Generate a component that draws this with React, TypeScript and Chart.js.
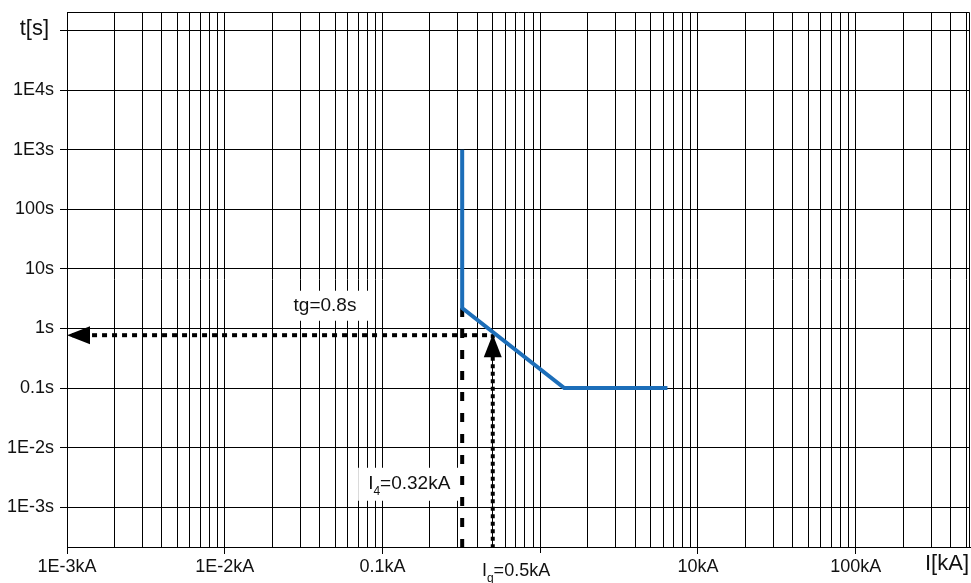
import React, { useEffect, useRef } from 'react';
import { Chart, registerables } from 'chart.js';

Chart.register(...registerables);

const FONT = '"Liberation Sans", Arial, Helvetica, sans-serif';

// ---- axes ----
const xDecades = [0.001, 0.01, 0.1, 1, 10, 100];
const xTickLabels = ['1E-3kA', '1E-2kA', '0.1kA', '', '10kA', '100kA'];
const xMinorSteps = [1, 2, 3, 4, 5, 6, 7, 8, 9];
const xMin = 0.001;
const xMax = 530;

const yDecades = [0.001, 0.01, 0.1, 1, 10, 100, 1000, 10000, 100000];
const yTickLabels = ['1E-3s', '1E-2s', '0.1s', '1s', '10s', '100s', '1E3s', '1E4s', ''];
const yMin = 2.15e-4;
const yMax = 2.04e5;

const yAxisTitle = 't[s]';
const xAxisTitle = 'I[kA]';

// ---- trip curve ----
const curveCurrent = [0.32, 0.32, 1.42, 6.4];
const curveTime = [1000, 2.2, 0.1, 0.1];

// ---- I4 pick-up (dashed) ----
const i4Current = [0.32, 0.32];
const i4Time = [2.2, yMin];

// ---- tg (dotted, arrow to time axis) ----
const tgCurrent = [0.46, xMin];
const tgTime = [0.77, 0.77];

// ---- Iq (dotted, arrow up) ----
const iqCurrent = [0.5, 0.5];
const iqTime = [0.8, yMin];

// ---- text annotations ----
const annTexts = [
  [{ t: 'tg=0.8s' }],
  [{ t: 'I' }, { t: '4', sub: true }, { t: '=0.32kA' }],
  [{ t: 'I' }, { t: 'q', sub: true }, { t: '=0.5kA' }],
];
const annX = [0.0273, 0.0811, 0.427];
const annY: (number | null)[] = [1.98, 2.04e-3, null];
const annBelowAxis = [0, 0, 29];
const annSize = [19, 19, 18];
const annBox = [
  { l: 15, r: 15, t: 20, b: 10 },
  { l: 10, r: 10, t: 21, b: 12 },
  { l: 6, r: 6, t: 23, b: 10 },
];

const BLUE = '#1c6eb9';
const INK = '#111';

const pts = (xs: number[], ys: number[]) => xs.map((x, i) => ({ x, y: ys[i] }));
const isDecade = (v: number) => Math.abs(Math.log10(v) - Math.round(Math.log10(v))) < 1e-9;
const findIdx = (arr: number[], v: number) =>
  arr.findIndex((d) => Math.abs(Math.log10(d) - Math.log10(v)) < 1e-6);

const xTickValues: number[] = [];
xDecades.forEach((d) => xMinorSteps.forEach((m) => {
  const v = d * m;
  if (v <= xMax * 1.0000001) xTickValues.push(v);
}));

function drawParts(ctx: CanvasRenderingContext2D, parts: any[], x: number, y: number, size: number, measureOnly = false) {
  let cx = x;
  parts.forEach((p) => {
    const fs = p.sub ? 12 : size;
    ctx.font = `${fs}px ${FONT}`;
    if (!measureOnly) ctx.fillText(p.t, cx, y + (p.sub ? 6 : 0));
    cx += ctx.measureText(p.t).width;
  });
  return cx - x;
}

const overlayPlugin = {
  id: 'overlay',
  beforeDatasetsDraw(chart: any) {
    const { ctx, chartArea, scales } = chart;
    ctx.save();
    ctx.textBaseline = 'alphabetic';
    ctx.textAlign = 'left';
    annTexts.forEach((parts, i) => {
      const x = scales.x.getPixelForValue(annX[i]);
      const y = annY[i] != null ? scales.y.getPixelForValue(annY[i]) : chartArea.bottom + annBelowAxis[i];
      const w = drawParts(ctx, parts, x, y, annSize[i], true);
      const b = annBox[i];
      ctx.fillStyle = '#fff';
      ctx.fillRect(x - b.l, y - b.t, w + b.l + b.r, b.t + b.b);
      ctx.fillStyle = INK;
      drawParts(ctx, parts, x, y, annSize[i]);
    });
    ctx.restore();
  },
  afterDatasetsDraw(chart: any) {
    const { ctx } = chart;
    ctx.save();
    chart.data.datasets.forEach((ds: any, i: number) => {
      if (!ds.arrow) return;
      const meta = chart.getDatasetMeta(i);
      const els = meta.data;
      const tip = ds.arrow === 'end' ? els[els.length - 1] : els[0];
      const from = ds.arrow === 'end' ? els[els.length - 2] : els[1];
      const dx = tip.x - from.x;
      const dy = tip.y - from.y;
      const len = Math.hypot(dx, dy) || 1;
      const ux = dx / len, uy = dy / len;
      const L = 23, W = 9;
      const bx = tip.x - ux * L, by = tip.y - uy * L;
      ctx.fillStyle = '#000';
      ctx.beginPath();
      ctx.moveTo(tip.x, tip.y);
      ctx.lineTo(bx - uy * W, by + ux * W);
      ctx.lineTo(bx + uy * W, by - ux * W);
      ctx.closePath();
      ctx.fill();
    });
    ctx.restore();
  },
  afterDraw(chart: any) {
    const { ctx, chartArea, scales } = chart;
    ctx.save();
    ctx.strokeStyle = '#000';
    ctx.lineWidth = 1;
    ctx.beginPath();
    ctx.moveTo(Math.round(chartArea.left) + 0.5, Math.round(chartArea.top) + 0.5);
    ctx.lineTo(Math.round(chartArea.right) - 0.5, Math.round(chartArea.top) + 0.5);
    ctx.lineTo(Math.round(chartArea.right) - 0.5, Math.round(chartArea.bottom) + 0.5);
    ctx.stroke();
    ctx.fillStyle = INK;
    ctx.font = `22px ${FONT}`;
    ctx.textBaseline = 'alphabetic';
    ctx.textAlign = 'right';
    const yTop = scales.y.getPixelForValue(yDecades[yDecades.length - 1]);
    ctx.fillText(yAxisTitle, chartArea.left - 18, yTop + 5);
    ctx.fillText(xAxisTitle, chartArea.right - 1, chartArea.bottom + 23);
    ctx.restore();
  },
};

export default function App() {
  const ref = useRef<HTMLCanvasElement | null>(null);
  useEffect(() => {
    if (!ref.current) return;
    const lineDs = (data: any[], color: string, width: number, dash: number[], extra: any = {}) => ({
      data,
      showLine: true,
      borderColor: color,
      backgroundColor: color,
      borderWidth: width,
      borderDash: dash,
      pointRadius: 0,
      pointHoverRadius: 0,
      tension: 0,
      fill: false,
      borderCapStyle: 'butt',
      borderJoinStyle: 'miter',
      ...extra,
    });
    const chart = new Chart(ref.current, {
      type: 'scatter',
      data: {
        datasets: [
          lineDs(pts(curveCurrent, curveTime), BLUE, 4, []),
          lineDs(pts(i4Current, i4Time), '#000', 4, [9, 12]),
          lineDs(pts(tgCurrent, tgTime), '#000', 4, [5, 5], { arrow: 'end' }),
          lineDs(pts(iqCurrent, iqTime), '#000', 4, [4, 3.5], { arrow: 'start' }),
        ] as any,
      },
      options: {
        animation: false,
        responsive: false,
        events: [],
        layout: { padding: { top: 12, right: 1, left: 0, bottom: 0 } },
        plugins: { legend: { display: false }, tooltip: { enabled: false }, title: { display: false } },
        scales: {
          x: {
            type: 'logarithmic',
            min: xMin,
            max: xMax,
            afterBuildTicks: (s: any) => { s.ticks = xTickValues.map((v) => ({ value: v })); },
            afterFit: (s: any) => { s.height = 36; s.paddingLeft = 0; s.paddingRight = 0; },
            ticks: {
              autoSkip: false,
              maxRotation: 0,
              minRotation: 0,
              padding: 2,
              color: INK,
              font: { family: FONT, size: 18 },
              callback: (v: any) => {
                const i = findIdx(xDecades, Number(v));
                return i >= 0 ? xTickLabels[i] : '';
              },
            },
            grid: {
              color: '#000',
              lineWidth: 1,
              tickLength: 7,
              tickColor: (c: any) => (c.tick && isDecade(c.tick.value) ? '#000' : 'rgba(0,0,0,0)'),
            },
            border: { color: '#000', width: 1 },
          },
          y: {
            type: 'logarithmic',
            min: yMin,
            max: yMax,
            afterBuildTicks: (s: any) => { s.ticks = yDecades.map((v) => ({ value: v })); },
            afterFit: (s: any) => { s.width = 67; s.paddingTop = 0; s.paddingBottom = 0; },
            ticks: {
              autoSkip: false,
              padding: 6,
              color: INK,
              font: { family: FONT, size: 18 },
              callback: (v: any) => {
                const i = findIdx(yDecades, Number(v));
                return i >= 0 ? yTickLabels[i] : '';
              },
            },
            grid: { color: '#000', lineWidth: 1, tickLength: 7, tickColor: '#000' },
            border: { color: '#000', width: 1 },
          },
        },
      } as any,
      plugins: [overlayPlugin],
    });
    return () => chart.destroy();
  }, []);
  return (
    <div style={{ position: 'fixed', left: 0, top: 0, width: 971, height: 583, background: '#fff' }}>
      <canvas ref={ref} width={971} height={583} style={{ display: 'block' }} />
    </div>
  );
}
